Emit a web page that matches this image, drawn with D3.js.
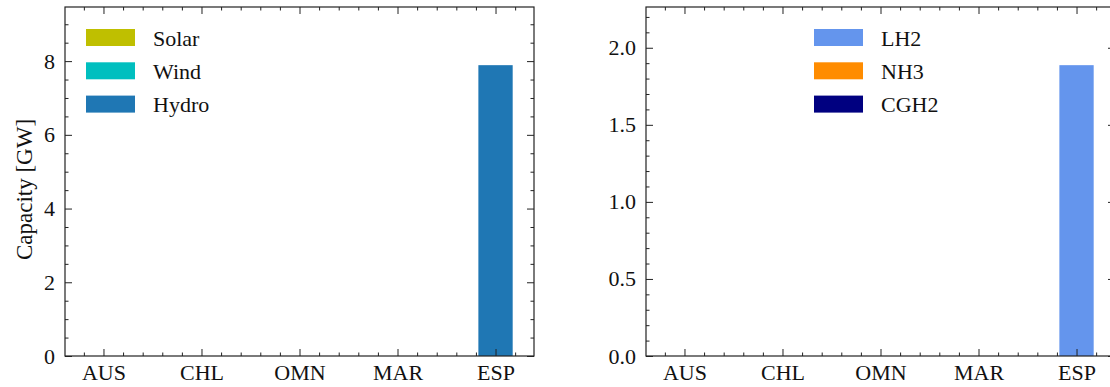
<!DOCTYPE html>
<html>
<head>
<meta charset="utf-8">
<script src="https://cdn.jsdelivr.net/npm/d3@7"></script>
<style>
  body { margin: 0; background: #fff; }
  svg text { font-family: "Liberation Serif", "DejaVu Serif", serif; fill: #111; }
</style>
</head>
<body>
<svg id="chart" width="1110" height="387"></svg>
<script>
// data
const countries = ["AUS", "CHL", "OMN", "MAR", "ESP"];

const powerNames = ["Solar", "Wind", "Hydro"];
const solar = [0, 0, 0, 0, 0];
const wind  = [0, 0, 0, 0, 0];
const hydro = [0, 0, 0, 0, 7.89];

const carrierNames = ["LH2", "NH3", "CGH2"];
const lh2  = [0, 0, 0, 0, 1.887];
const nh3  = [0, 0, 0, 0, 0];
const cgh2 = [0, 0, 0, 0, 0];

const leftTicks  = [0, 2, 4, 6, 8];
const rightTicks = [0, 0.5, 1.0, 1.5, 2.0];

const svg = d3.select("#chart");
const fontSize = 22;
const barWidth = 0.35;

// draws one panel: stacked bars, inward ticks all round, legend
function drawPanel(opts) {
    var left = opts.left, right = opts.right, top = 7, bottom = 356;
    var g = svg.append("g");

    var x = d3.scaleLinear().domain([-0.3925, 4.3925]).range([left, right]);
    var ymax = d3.max(opts.series[0].map((d, i) => d3.sum(opts.series, s => s[i]))) * 1.2;
    var y = d3.scaleLinear().domain([0, ymax]).range([bottom, top]);

    // stacked bars
    var stackData = countries.map((c, i) => {
        var row = { i: i };
        opts.names.forEach((n, k) => row[n] = opts.series[k][i]);
        return row;
    });
    var stacked = d3.stack().keys(opts.names)(stackData);
    stacked.forEach((layer, k) => {
        g.append("g").selectAll("rect").data(layer).join("rect")
            .attr("x", d => x(d.data.i - barWidth / 2))
            .attr("width", x(barWidth) - x(0))
            .attr("y", d => y(d[1]))
            .attr("height", d => y(d[0]) - y(d[1]))
            .attr("fill", opts.colors[k]);
    });

    var xMajor = d3.range(countries.length);
    var xMinor = d3.range(-2, 22).map(v => v / 5).filter(v => v > -0.39 && v < 4.39 && Math.abs(v - Math.round(v)) > 1e-6);
    var yMinor = d3.range(0, Math.floor(ymax / opts.minorStep) + 1).map(v => v * opts.minorStep)
        .filter(v => v <= ymax && !opts.ticks.some(t => Math.abs(t - v) < 1e-6));

    function styleAxis(sel) {
        sel.select(".domain").remove();
        sel.selectAll("line").attr("stroke", "#222").attr("stroke-width", 1);
        sel.selectAll("text").style("font-size", fontSize + "px").attr("fill", "#111");
    }

    // bottom
    g.append("g").attr("transform", `translate(0,${bottom})`)
        .call(d3.axisBottom(x).tickValues(xMajor).tickFormat(i => countries[i]).tickSize(-7).tickPadding(8))
        .call(styleAxis);
    g.append("g").attr("transform", `translate(0,${bottom})`)
        .call(d3.axisBottom(x).tickValues(xMinor).tickFormat("").tickSize(-3.5)).call(styleAxis);
    // top
    g.append("g").attr("transform", `translate(0,${top})`)
        .call(d3.axisTop(x).tickValues(xMajor).tickFormat("").tickSize(-7)).call(styleAxis);
    g.append("g").attr("transform", `translate(0,${top})`)
        .call(d3.axisTop(x).tickValues(xMinor).tickFormat("").tickSize(-3.5)).call(styleAxis);
    // left
    g.append("g").attr("transform", `translate(${left},0)`)
        .call(d3.axisLeft(y).tickValues(opts.ticks).tickFormat(opts.fmt).tickSize(-7).tickPadding(10))
        .call(styleAxis);
    g.append("g").attr("transform", `translate(${left},0)`)
        .call(d3.axisLeft(y).tickValues(yMinor).tickFormat("").tickSize(-3.5)).call(styleAxis);
    // right
    g.append("g").attr("transform", `translate(${right},0)`)
        .call(d3.axisRight(y).tickValues(opts.ticks).tickFormat("").tickSize(-7)).call(styleAxis);
    g.append("g").attr("transform", `translate(${right},0)`)
        .call(d3.axisRight(y).tickValues(yMinor).tickFormat("").tickSize(-3.5)).call(styleAxis);

    // frame
    g.append("rect").attr("x", left).attr("y", top)
        .attr("width", right - left).attr("height", bottom - top)
        .attr("fill", "none").attr("stroke", "#222").attr("stroke-width", 1.2);

    // legend
    var lg = g.append("g").attr("transform", `translate(${opts.legendX},29)`);
    opts.names.forEach((n, k) => {
        lg.append("rect").attr("x", 0).attr("y", k * 33.3)
            .attr("width", 49).attr("height", 17).attr("fill", opts.colors[k]);
        lg.append("text").attr("x", 67).attr("y", k * 33.3 + 16.5)
            .style("font-size", fontSize + "px").text(n);
    });

    if (opts.ylabel) {
        svg.append("text")
            .attr("transform", `translate(32,${(top + bottom) / 2 + 8}) rotate(-90)`)
            .attr("text-anchor", "middle")
            .style("font-size", "23px")
            .text(opts.ylabel);
    }
}

drawPanel({
    left: 65, right: 534,
    names: powerNames, series: [solar, wind, hydro],
    colors: ["#bfbf00", "#00bfbf", "#1f77b4"],
    ticks: leftTicks, minorStep: 0.5, fmt: d3.format("d"),
    legendX: 86, ylabel: "Capacity [GW]"
});

drawPanel({
    left: 646, right: 1115,
    names: carrierNames, series: [lh2, nh3, cgh2],
    colors: ["#6495ed", "#ff8c00", "#000080"],
    ticks: rightTicks, minorStep: 0.1, fmt: d3.format(".1f"),
    legendX: 814
});
</script>
</body>
</html>
